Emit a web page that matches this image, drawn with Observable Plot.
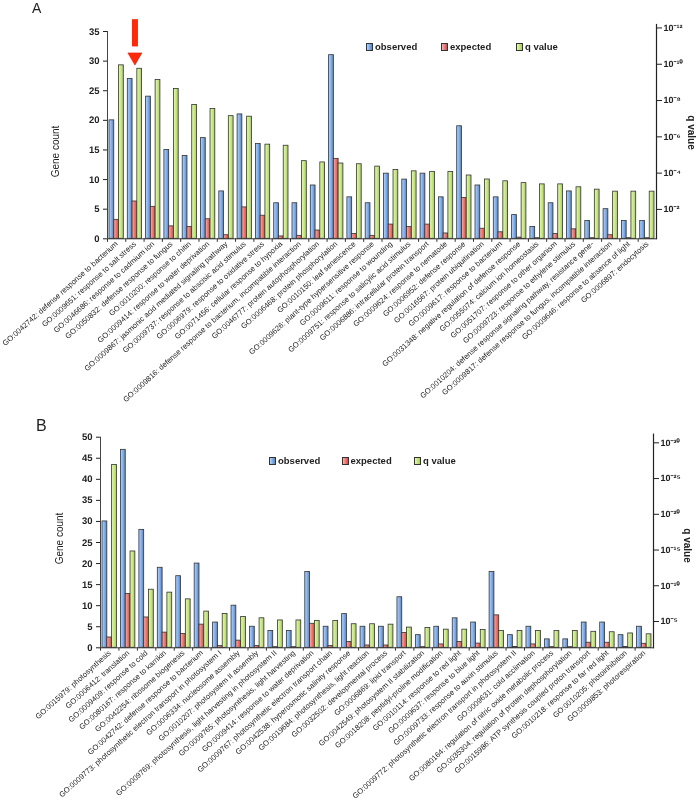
<!DOCTYPE html>
<html>
<head>
<meta charset="utf-8">
<script src="https://cdn.jsdelivr.net/npm/d3@7"></script>
<script src="https://cdn.jsdelivr.net/npm/@observablehq/plot@0.6"></script>
<style>
  body { margin: 0; background: #fff; font-family: "Liberation Sans", Arial, sans-serif; color: #222; }
  #wrap { position: relative; width: 697px; height: 808px; overflow: hidden; background: #fff; }
  .panel { position: absolute; left: 0; will-change: transform; text-rendering: geometricPrecision; }
  .tag { position: absolute; font-size: 15px; color: #222; }
  .ytitle { position: absolute; font-size: 10px; white-space: nowrap; transform-origin: center center; color: #222; }
  .legend { position: absolute; font-size: 9.5px; font-weight: bold; white-space: nowrap; color: #222; }
  .legend span.sw { display: inline-block; width: 5px; height: 6px; border: 0.8px solid #333; margin-right: 2px; vertical-align: -0.5px; }
</style>
</head>
<body>
<svg width="0" height="0" style="position:absolute">
  <defs>
    <linearGradient id="gBlue" x1="0" x2="1" y1="0" y2="0">
      <stop offset="0" stop-color="#b7d3f5"/><stop offset="0.45" stop-color="#8ab4ec"/><stop offset="1" stop-color="#4f86d6"/>
    </linearGradient>
    <linearGradient id="gRed" x1="0" x2="1" y1="0" y2="0">
      <stop offset="0" stop-color="#f7b3b0"/><stop offset="0.45" stop-color="#f07e78"/><stop offset="1" stop-color="#d94a45"/>
    </linearGradient>
    <linearGradient id="gGreen" x1="0" x2="1" y1="0" y2="0">
      <stop offset="0" stop-color="#e6f6bd"/><stop offset="0.45" stop-color="#cdea8a"/><stop offset="1" stop-color="#a6cf55"/>
    </linearGradient>
  </defs>
</svg>
<div id="wrap"></div>
<script>
// ---------- Panel A data ----------
const categoriesA = [
  "GO:0042742: defense response to bacterium",
  "GO:0009651: response to salt stress",
  "GO:0046686: response to cadmium ion",
  "GO:0050832: defense response to fungus",
  "GO:0010200: response to chitin",
  "GO:0009414: response to water deprivation",
  "GO:0009867: jasmonic acid mediated signaling pathway",
  "GO:0009737: response to abscisic acid stimulus",
  "GO:0006979: response to oxidative stress",
  "GO:0071456: cellular response to hypoxia",
  "GO:0009816: defense response to bacterium, incompatible interaction",
  "GO:0046777: protein autophosphorylation",
  "GO:0006468: protein phosphorylation",
  "GO:0010150: leaf senescence",
  "GO:0009626: plant-type hypersensitive response",
  "GO:0009611: response to wounding",
  "GO:0009751: response to salicylic acid stimulus",
  "GO:0006886: intracellular protein transport",
  "GO:0009624: response to nematode",
  "GO:0006952: defense response",
  "GO:0016567: protein ubiquitination",
  "GO:0009617: response to bacterium",
  "GO:0031348: negative regulation of defense response",
  "GO:0055074: calcium ion homeostasis",
  "GO:0051707: response to other organism",
  "GO:0009723: response to ethylene stimulus",
  "GO:0010204: defense response signaling pathway, resistance gene-",
  "GO:0009817: defense response to fungus, incompatible interaction",
  "GO:0009646: response to absence of light",
  "GO:0006897: endocytosis"
];
const observedA = [20, 27, 24, 15, 14, 17, 8, 21, 16, 6, 6, 9, 31, 7, 6, 11, 10, 11, 7, 19, 9, 7, 4, 2, 6, 8, 3, 5, 3, 3];
const expectedA = [3.2, 6.3, 5.4, 2.1, 2.0, 3.3, 0.6, 5.3, 3.9, 0.4, 0.5, 1.4, 13.5, 0.8, 0.5, 2.4, 2.0, 2.4, 0.9, 6.9, 1.7, 1.1, 0.2, 0.1, 0.8, 1.6, 0.1, 0.6, 0.1, 0.1];
// q value as -log10(q)
const qNegLog10A = [9.94, 9.75, 9.13, 8.64, 7.76, 7.53, 7.14, 7.11, 5.57, 5.51, 4.66, 4.59, 4.53, 4.49, 4.36, 4.17, 4.10, 4.07, 4.07, 3.87, 3.65, 3.55, 3.45, 3.38, 3.38, 3.22, 3.09, 2.98, 2.98, 2.98];
const countTicksA = [0, 5, 10, 15, 20, 25, 30, 35];
const qTicksA = [2, 4, 6, 8, 10, 12];
const highlightA = ["GO:0009651: response to salt stress"];

// ---------- Panel B data ----------
const categoriesB = [
  "GO:0015979: photosynthesis",
  "GO:0006412: translation",
  "GO:0009409: response to cold",
  "GO:0080167: response to karrikin",
  "GO:0042254: ribosome biogenesis",
  "GO:0042742: defense response to bacterium",
  "GO:0009773: photosynthetic electron transport in photosystem I",
  "GO:0006334: nucleosome assembly",
  "GO:0010207: photosystem II assembly",
  "GO:0009769: photosynthesis, light harvesting in photosystem II",
  "GO:0009765: photosynthesis, light harvesting",
  "GO:0009414: response to water deprivation",
  "GO:0009767: photosynthetic electron transport chain",
  "GO:0042538: hyperosmotic salinity response",
  "GO:0019684: photosynthesis, light reaction",
  "GO:0032502: developmental process",
  "GO:0006869: lipid transport",
  "GO:0042549: photosystem II stabilization",
  "GO:0018208: peptidyl-proline modification",
  "GO:0010114: response to red light",
  "GO:0009637: response to blue light",
  "GO:0009733: response to auxin stimulus",
  "GO:0009772: photosynthetic electron transport in photosystem II",
  "GO:0009631: cold acclimation",
  "GO:0080164: regulation of nitric oxide metabolic process",
  "GO:0035304: regulation of protein dephosphorylation",
  "GO:0015986: ATP synthesis coupled proton transport",
  "GO:0010218: response to far red light",
  "GO:0010205: photoinhibition",
  "GO:0009853: photorespiration"
];
const observedB = [30, 47, 28, 19, 17, 20, 6, 10, 5, 4, 4, 18, 5, 8, 5, 5, 12, 3, 5, 7, 6, 18, 3, 5, 2, 2, 6, 6, 3, 5];
const expectedB = [2.45, 12.8, 7.2, 3.6, 3.3, 5.5, 0.4, 1.7, 0.4, 0.15, 0.15, 5.7, 0.4, 1.4, 0.55, 0.55, 3.5, 0.15, 0.8, 1.4, 1.0, 7.7, 0.2, 0.8, 0.15, 0.15, 1.2, 1.2, 0.2, 0.95];
const qNegLog10B = [26.9, 14.8, 9.45, 9.04, 8.10, 6.39, 6.04, 5.62, 5.45, 5.15, 5.15, 5.09, 5.09, 4.62, 4.62, 4.56, 4.15, 4.09, 3.86, 3.86, 3.80, 3.68, 3.68, 3.68, 3.68, 3.68, 3.56, 3.50, 3.33, 3.21];
const countTicksB = [0, 5, 10, 15, 20, 25, 30, 35, 40, 45, 50];
const qTicksB = [5, 10, 15, 20, 25, 30];

const seriesNames = ["observed", "expected", "q value"];
const FONT = "'Liberation Sans', Arial, sans-serif";

const supMap = {"-": "⁻", "0": "⁰", "1": "¹", "2": "²", "3": "³", "4": "⁴", "5": "⁵", "6": "⁶", "7": "⁷", "8": "⁸", "9": "⁹"};
const sup = s => String(s).split("").map(c => supMap[c] ?? c).join("");

function panel(o) {
  const rows = o.cats.flatMap((cat, i) => [
    {cat, series: "observed", value: o.obs[i]},
    {cat, series: "expected", value: o.exp[i]},
    {cat, series: "q value", value: o.toCount(o.q[i])}
  ]);
  const extra = o.extra ? o.extra() : [];
  return Plot.plot({
    width: 697,
    height: o.height,
    marginLeft: o.ml, marginRight: o.mr, marginTop: o.mt, marginBottom: o.mb,
    style: {background: "transparent", overflow: "visible", fontFamily: FONT, color: "#222"},
    fx: {domain: o.cats, padding: 0, round: false, label: null},
    x: {domain: seriesNames, paddingInner: 0, paddingOuter: 0.42, round: false, axis: null},
    y: {domain: [0, o.yMax], axis: null},
    color: {domain: seriesNames, range: ["url(#gBlue)", "url(#gRed)", "url(#gGreen)"]},
    marks: [
      Plot.barY(rows, {fx: "cat", x: "series", y: "value", fill: "series", stroke: "#333", strokeWidth: 0.8}),
      Plot.ruleY([0], {stroke: "#333", strokeWidth: 1}),
      Plot.ruleX(o.cats, {fx: d => d, x: () => "observed", y1: 0, y2: o.tickLen, dx: -4.4, stroke: "#333"}),
      Plot.frame({anchor: "left", facetAnchor: "left", stroke: "#444"}),
      Plot.frame({anchor: "right", facetAnchor: "right", stroke: "#222", strokeWidth: 1.2, insetTop: o.rightInset}),
      Plot.axisY({anchor: "left", ticks: o.countTicks, tickSize: 4, tickPadding: 4, fontSize: 9.5, fontWeight: "bold", fill: "#222", label: null}),
      Plot.axisY({anchor: "right", ticks: o.qTicks.map(o.toCount), tickFormat: c => "10" + sup(-Math.round(o.fromCount(c))),
                  tickSize: 5, tickPadding: 2, fontSize: 9, fontWeight: "bold", fill: "#222", label: null}),
      Plot.axisFx({anchor: "bottom", tickRotate: -42, tickSize: 0, tickPadding: 4, fontSize: 7.6, fill: "#222", label: null}),
      ...extra
    ]
  });
}

const wrap = document.getElementById("wrap");

// Panel A: -log10(q) aligned with gene-count axis
const toCountA = e => 3.064 * e - 1.17;
const fromCountA = c => (c + 1.17) / 3.064;
const svgA = panel({
  cats: categoriesA, obs: observedA, exp: expectedA, q: qNegLog10A,
  toCount: toCountA, fromCount: fromCountA, countTicks: countTicksA, qTicks: qTicksA,
  yMax: 35, height: 430, ml: 107, mr: 41, mt: 31, mb: 191.7, tickLen: -0.6, rightInset: -7,
  extra: () => [
    Plot.ruleX(highlightA, {fx: d => d, x: () => "expected", y1: 32.4, y2: 37, stroke: "#ff2a0a", strokeWidth: 6}),
    Plot.dot(highlightA, {fx: d => d, x: () => "expected", y: 30.7, symbol: "triangle", rotate: 180, r: 5.2, fill: "#ff2a0a", stroke: "#d81e00", strokeWidth: 0.6})
  ]
});
svgA.classList.add("panel");
svgA.style.top = "0px";
wrap.appendChild(svgA);

// Panel B
const toCountB = e => 1.697 * e - 2.245;
const fromCountB = c => (c + 2.245) / 1.697;
const svgB = panel({
  cats: categoriesB, obs: observedB, exp: expectedB, q: qNegLog10B,
  toCount: toCountB, fromCount: fromCountB, countTicks: countTicksB, qTicks: qTicksB,
  yMax: 50, height: 388, ml: 100, mr: 44, mt: 16.7, mb: 160.7, tickLen: -0.8, rightInset: -3
});
svgB.classList.add("panel");
svgB.style.top = "420px";
wrap.appendChild(svgB);

// Tags, axis titles, legends (HTML)
function addDiv(cls, html, style) {
  const d = document.createElement("div");
  d.className = cls; d.innerHTML = html;
  Object.assign(d.style, style);
  wrap.appendChild(d);
  return d;
}
addDiv("tag", "A", {left: "32px", top: "0px", fontSize: "14px"});
addDiv("tag", "B", {left: "36px", top: "417px", fontSize: "16px"});
addDiv("ytitle", "Gene count", {left: "27px", top: "146px", width: "56px", textAlign: "center", transform: "rotate(-90deg)"});
addDiv("ytitle", "q value", {left: "671px", top: "127px", width: "40px", textAlign: "center", fontWeight: "bold", transform: "rotate(90deg)"});
addDiv("ytitle", "Gene count", {left: "31px", top: "533px", width: "56px", textAlign: "center", transform: "rotate(-90deg)"});
addDiv("ytitle", "q value", {left: "667px", top: "540px", width: "40px", textAlign: "center", fontWeight: "bold", transform: "rotate(90deg)"});

function legend(x0, step, y) {
  const fills = ["#b7d3f5,#4f86d6", "#f7b3b0,#d94a45", "#e6f6bd,#a6cf55"];
  seriesNames.forEach((name, i) => {
    addDiv("legend", `<span class="sw" style="background:linear-gradient(to right, ${fills[i]})"></span>${name}`,
      {left: (x0 + i * step) + "px", top: y + "px"});
  });
}
legend(366, 75, 41);
legend(269, 72.5, 455);
</script>
</body>
</html>
